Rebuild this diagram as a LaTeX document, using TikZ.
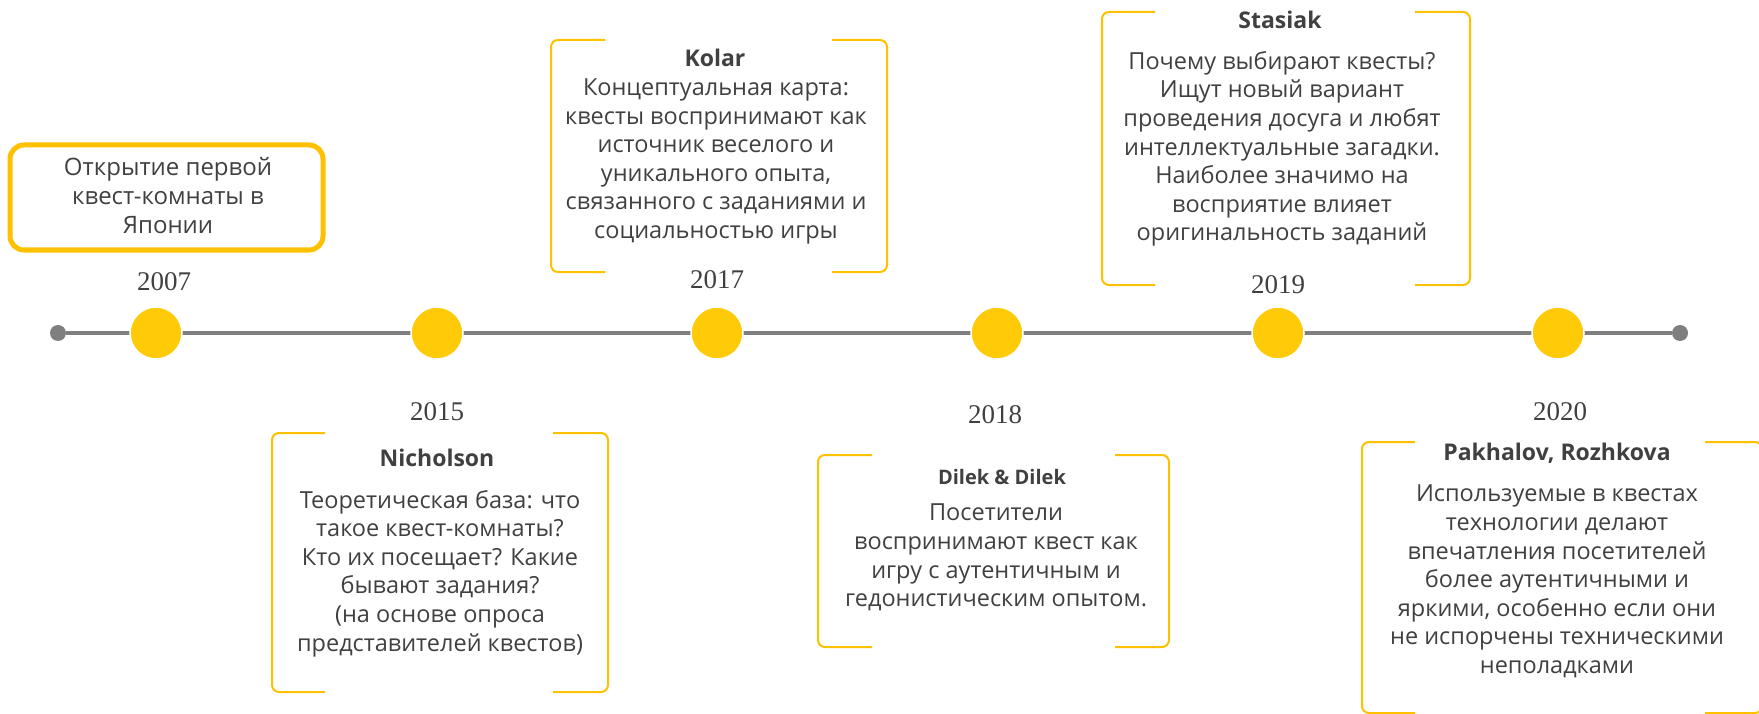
\documentclass[tikz,border=0pt]{standalone}
\usepackage{fontspec}
\setmainfont{Open Sans}
\newfontfamily\yearfont{Liberation Serif}
\definecolor{gold}{HTML}{FFC000}
\definecolor{dotgold}{HTML}{FFCA08}
\definecolor{lgray}{HTML}{7F7F7F}
\definecolor{txt}{HTML}{404040}
\begin{document}
\begin{tikzpicture}[x=1pt,y=-1pt,
  body/.style={font=\fontsize{23.5}{28.6}\selectfont, text=txt, align=center, inner sep=0pt},
  ttl/.style={font=\bfseries\fontsize{23}{26}\selectfont, text=txt, inner sep=0pt},
  yr/.style={font=\yearfont\fontsize{27}{30}\selectfont, text=txt, inner sep=0pt},
  yellowdot/.style={circle, fill=dotgold, draw=white, line width=1.5pt, minimum size=52pt, inner sep=0pt},
  enddot/.style={circle, fill=lgray, minimum size=16pt, inner sep=0pt},
  brk/.style={draw=gold, line width=2pt, rounded corners=7pt},
  firstbox/.style={draw=gold, line width=5pt, rounded corners=14pt, minimum width=313pt, minimum height=105pt, inner sep=0pt}]
\useasboundingbox (0,0) rectangle (1759,714);

% timeline
\node[enddot] (L) at (58,333) {};
\node[enddot] (R) at (1680,333) {};
\draw[lgray, line width=4pt] (L) -- (R);
\node[yellowdot] (c1) at (156,333) {};
\node[yellowdot] (c2) at (437,333) {};
\node[yellowdot] (c3) at (717,333) {};
\node[yellowdot] (c4) at (997,333) {};
\node[yellowdot] (c5) at (1278,333) {};
\node[yellowdot] (c6) at (1558,333) {};

% 2007
\node[firstbox] (b1) at (166.5,197.5) {};
\node[body, font=\fontsize{24}{29}\selectfont] (t1) at (168,196) {Открытие первой\\квест-комнаты в\\Японии};
\node[yr] (y1) at (164,282) {2007};

% 2017 Kolar
\draw[brk] (605,40) -- (551,40) -- (551,272) -- (605,272);
\draw[brk] (832,40) -- (887,40) -- (887,272) -- (832,272);
\node[ttl] (h3) at (715,58) {Kolar};
\node[body] (t3) at (716,161.5) {Концептуальная карта:\\квесты воспринимают как\\источник веселого и\\уникального опыта,\\связанного с заданиями и\\социальностью игры};
\node[yr] (y3) at (717,280) {2017};

% 2019 Stasiak
\draw[brk] (1155,12) -- (1102,12) -- (1102,285) -- (1155,285);
\draw[brk] (1415,12) -- (1470,12) -- (1470,285) -- (1415,285);
\node[ttl] (h5) at (1280,20) {Stasiak};
\node[body] (t5) at (1282,149) {Почему выбирают квесты?\\Ищут новый вариант\\проведения досуга и любят\\интеллектуальные загадки.\\Наиболее значимо на\\восприятие влияет\\оригинальность заданий};
\node[yr] (y5) at (1278,285) {2019};

% 2015 Nicholson
\draw[brk] (325,433) -- (272,433) -- (272,692) -- (325,692);
\draw[brk] (553,433) -- (608,433) -- (608,692) -- (553,692);
\node[ttl] (h2) at (437,458) {Nicholson};
\node[body] (t2) at (440,573.5) {Теоретическая база: что\\такое квест-комнаты?\\Кто их посещает? Какие\\бывают задания?\\(на основе опроса\\представителей квестов)};
\node[yr] (y2) at (437,412) {2015};

% 2018 Dilek
\draw[brk] (872,455) -- (818,455) -- (818,647) -- (872,647);
\draw[brk] (1115,455) -- (1169,455) -- (1169,647) -- (1115,647);
\node[ttl, font=\bfseries\fontsize{20}{24}\selectfont] (h4) at (1002,477) {Dilek \& Dilek};
\node[body] (t4) at (996,557.5) {Посетители\\воспринимают квест как\\игру с аутентичным и\\гедонистическим опытом.};
\node[yr] (y4) at (995,415) {2018};

% 2020 Pakhalov
\draw[brk] (1415,442) -- (1362,442) -- (1362,713) -- (1415,713);
\draw[brk] (1705,442) -- (1762,442) -- (1762,713) -- (1705,713);
\node[ttl] (h6) at (1557,453) {Pakhalov, Rozhkova};
\node[body] (t6) at (1557,581.5) {Используемые в квестах\\технологии делают\\впечатления посетителей\\более аутентичными и\\яркими, особенно если они\\не испорчены техническими\\неполадками};
\node[yr] (y6) at (1560,412) {2020};
\end{tikzpicture}
\end{document}
